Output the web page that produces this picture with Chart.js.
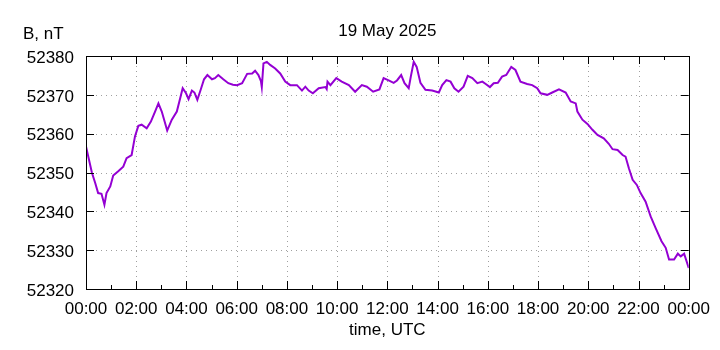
<!DOCTYPE html>
<html>
<head>
<meta charset="utf-8">
<script src="https://cdn.jsdelivr.net/npm/chart.js@4.4.1/dist/chart.umd.min.js"></script>
<style>
  html, body { margin: 0; padding: 0; background: #fff; }
  #wrap { width: 720px; height: 350px; }
</style>
</head>
<body>
<div id="wrap"><canvas id="chart-b" width="720" height="350"></canvas></div>
<script>
// minutes since 00:00 UTC
const minutes = [
    0, 14, 22, 29, 37, 44, 49, 58, 65, 77, 89, 97, 109, 117, 125, 133, 145, 155, 165, 173,
    181, 194, 205, 217, 225, 231, 239, 245, 253, 259, 266, 274, 282, 290, 301, 308, 316, 328, 340, 351,
    361, 373, 385, 397, 404, 412, 418, 420, 424, 432, 440, 452, 464, 476, 488, 504, 516, 524, 532, 542,
    556, 572, 575, 577, 584, 598, 611, 628, 643, 659, 671, 686, 701, 711, 723, 735, 743, 753, 761, 771,
    776, 783, 790, 799, 811, 827, 843, 851, 861, 871, 880, 890, 902, 912, 923, 935, 947, 955, 965, 974,
    984, 994, 1004, 1016, 1026, 1038, 1054, 1066, 1078, 1086, 1102, 1114, 1130, 1146, 1158, 1170, 1174, 1186, 1198, 1210,
    1222, 1237, 1249, 1258, 1270, 1282, 1289, 1297, 1306, 1316, 1325, 1337, 1349, 1361, 1375, 1385, 1393, 1405, 1414, 1421,
    1429, 1440
];

// B, nT
const field = [
    52356.7, 52350.0, 52347.3, 52344.7, 52344.5, 52341.7, 52344.7, 52346.4, 52349.2, 52350.3,
    52351.5, 52353.7, 52354.5, 52359.3, 52362.0, 52362.3, 52361.4, 52363.1, 52365.7, 52367.8,
    52365.7, 52360.8, 52363.6, 52365.7, 52369.1, 52371.7, 52370.4, 52368.9, 52371.1, 52370.6,
    52368.7, 52371.3, 52374.0, 52375.1, 52374.0, 52374.3, 52375.1, 52374.0, 52373.0, 52372.6,
    52372.5, 52373.0, 52375.4, 52375.5, 52376.2, 52375.1, 52373.5, 52372.0, 52378.1, 52378.5,
    52377.7, 52376.8, 52375.5, 52373.4, 52372.5, 52372.5, 52371.1, 52372.1, 52371.1, 52370.4,
    52371.7, 52372.0, 52371.5, 52373.4, 52372.5, 52374.3, 52373.4, 52372.5, 52370.8, 52372.5,
    52372.1, 52370.8, 52371.4, 52374.3, 52373.7, 52373.1, 52373.7, 52375.1, 52373.0, 52371.7,
    52374.7, 52378.5, 52377.2, 52373.1, 52371.3, 52371.1, 52370.6, 52372.5, 52373.8, 52373.4,
    52371.7, 52370.8, 52372.1, 52374.9, 52374.3, 52373.0, 52373.4, 52372.8, 52372.0, 52373.0,
    52373.1, 52374.7, 52375.1, 52377.2, 52376.4, 52373.4, 52372.8, 52372.5, 52371.7, 52370.4,
    52370.0, 52370.6, 52371.4, 52370.6, 52368.3, 52367.8, 52365.7, 52363.6, 52362.5, 52361.0,
    52359.7, 52358.8, 52357.4, 52356.0, 52355.8, 52354.5, 52354.1, 52351.1, 52348.1, 52346.8,
    52344.7, 52342.5, 52338.7, 52335.7, 52332.3, 52330.6, 52327.6, 52327.6, 52329.1, 52328.4,
    52329.1, 52325.4
];

const xTickStep = 120;   // 2 h
const xMinorStep = 60;
const yTicks = [52320, 52330, 52340, 52350, 52360, 52370, 52380];

const FONT = '"Liberation Sans", Arial, sans-serif';

function hhmm(m) {
    const h = Math.floor(m / 60) % 24;
    return (h < 10 ? '0' : '') + h + ':00';
}

// gnuplot look: dotted grid, boxed frame, inward ticks, free texts
const gnuplotFrame = {
    id: 'gnuplotFrame',
    beforeDatasetsDraw(chart) {
        const ctx = chart.ctx;
        const a = chart.chartArea;
        const x = chart.scales.x, y = chart.scales.y;
        ctx.save();
        ctx.strokeStyle = '#a0a0a0';
        ctx.lineWidth = 1;
        ctx.setLineDash([1, 4]);
        for (let m = xTickStep; m < 1440; m += xTickStep) {
            const px = Math.round(x.getPixelForValue(m)) + 0.5;
            ctx.beginPath(); ctx.moveTo(px, a.top); ctx.lineTo(px, a.bottom); ctx.stroke();
        }
        yTicks.slice(1, -1).forEach(v => {
            const py = Math.round(y.getPixelForValue(v)) + 0.5;
            ctx.beginPath(); ctx.moveTo(a.left, py); ctx.lineTo(a.right, py); ctx.stroke();
        });
        ctx.restore();
    },
    afterDatasetsDraw(chart) {
        const ctx = chart.ctx;
        const a = chart.chartArea;
        const x = chart.scales.x, y = chart.scales.y;
        ctx.save();
        ctx.strokeStyle = '#000';
        ctx.lineWidth = 1;
        ctx.strokeRect(Math.round(a.left) + 0.5, Math.round(a.top) + 0.5,
            Math.round(a.right - a.left), Math.round(a.bottom - a.top));
        ctx.beginPath();
        for (let m = xMinorStep; m < 1440; m += xMinorStep) {
            const len = (m % xTickStep === 0) ? 8 : 4;
            const px = Math.round(x.getPixelForValue(m)) + 0.5;
            ctx.moveTo(px, a.bottom); ctx.lineTo(px, a.bottom - len);
            ctx.moveTo(px, a.top); ctx.lineTo(px, a.top + len);
        }
        yTicks.slice(1, -1).forEach(v => {
            const py = Math.round(y.getPixelForValue(v)) + 0.5;
            ctx.moveTo(a.left, py); ctx.lineTo(a.left + 8, py);
            ctx.moveTo(a.right, py); ctx.lineTo(a.right - 8, py);
        });
        ctx.stroke();

        ctx.fillStyle = '#000';
        ctx.font = '17px ' + FONT;
        ctx.textBaseline = 'alphabetic';
        ctx.textAlign = 'center';
        ctx.fillText('19 May 2025', (a.left + a.right) / 2, 36);
        ctx.fillText('time, UTC', (a.left + a.right) / 2, 335);
        ctx.textAlign = 'left';
        ctx.fillText('B, nT', 23, 39);
        ctx.restore();
    }
};

const data = {
    datasets: [{
        label: 'B',
        data: minutes.map((m, i) => ({ x: m, y: field[i] })),
        borderColor: '#9400d3',
        borderWidth: 2,
        pointRadius: 0,
        tension: 0,
        fill: false
    }]
};

const config = {
    type: 'line',
    data: data,
    options: {
        responsive: false,
        animation: false,
        devicePixelRatio: 1,
        layout: { padding: { top: 56, right: 31, left: 0, bottom: 0 } },
        plugins: {
            legend: { display: false },
            title: { display: false },
            tooltip: { enabled: false }
        },
        scales: {
            x: {
                type: 'linear',
                min: 0,
                max: 1440,
                grid: { display: false, drawTicks: false },
                border: { display: false },
                afterFit: s => { s.height = 61; },
                ticks: {
                    stepSize: xTickStep,
                    autoSkip: false,
                    maxRotation: 0,
                    minRotation: 0,
                    padding: 10,
                    color: '#000',
                    font: { family: FONT, size: 17 },
                    callback: v => hhmm(v)
                }
            },
            y: {
                min: 52320,
                max: 52380,
                grid: { display: false, drawTicks: false },
                border: { display: false },
                afterFit: s => { s.width = 86; },
                ticks: {
                    stepSize: 10,
                    padding: 12,
                    labelOffset: 2,
                    color: '#000',
                    font: { family: FONT, size: 17 },
                    callback: v => String(v)
                }
            }
        }
    },
    plugins: [gnuplotFrame]
};

const chartB = new Chart(document.getElementById('chart-b'), config);
</script>
</body>
</html>
